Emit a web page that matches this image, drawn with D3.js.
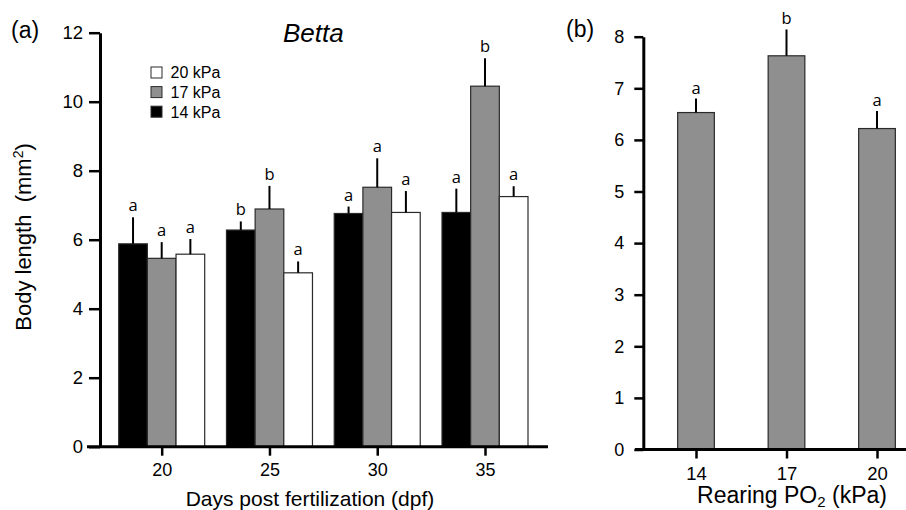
<!DOCTYPE html>
<html>
<head>
<meta charset="utf-8">
<script src="https://cdn.jsdelivr.net/npm/d3@7/dist/d3.min.js"></script>
<style>
  html, body { margin: 0; padding: 0; background: #fff; }
  svg { display: block; }
  text { font-family: "Liberation Sans", Arial, sans-serif; fill: #000; }
  .sig { font-family: "Open Sans", "Noto Sans", sans-serif; }
</style>
</head>
<body>
<svg id="chart" width="906" height="510"></svg>
<script>
// Panel (a): body length by age and rearing PO2
const days = ["20", "25", "30", "35"];
const seriesKeys = ["14", "17", "20"];
const seriesLabels = ["14 kPa", "17 kPa", "20 kPa"];
const mean14 = [5.88, 6.28, 6.76, 6.79];
const se14   = [0.77, 0.25, 0.20, 0.69];
const sig14  = ["a", "b", "a", "a"];
const mean17 = [5.46, 6.89, 7.52, 10.45];
const se17   = [0.47, 0.67, 0.84, 0.81];
const sig17  = ["a", "b", "a", "b"];
const mean20 = [5.58, 5.04, 6.79, 7.25];
const se20   = [0.44, 0.33, 0.62, 0.30];
const sig20  = ["a", "a", "a", "a"];
const yTicksA = [0, 2, 4, 6, 8, 10, 12];

// Panel (b): pooled body length by rearing PO2
const po2 = ["14", "17", "20"];
const meanB = [6.53, 7.63, 6.22];
const seB   = [0.27, 0.51, 0.34];
const sigB  = ["a", "b", "a"];
const yTicksB = [0, 1, 2, 3, 4, 5, 6, 7, 8];

const fills = { "14": "#000000", "17": "#8f8f8f", "20": "#ffffff" };
const BAR_STROKE = "#2a2a2a";

const svg = d3.select("#chart");

// ---------- Panel (a) ----------
const yA = d3.scaleLinear().domain([0, 12]).range([446.7, 32.7]);
const xA = d3.scalePoint().domain(days).range([161.7, 485]);
const sub = d3.scaleBand().domain(seriesKeys).range([-43, 43]).padding(0);

const rowsA = [];
days.forEach((d, i) => {
  rowsA.push({ day: d, key: "14", mean: mean14[i], se: se14[i], sig: sig14[i] });
  rowsA.push({ day: d, key: "17", mean: mean17[i], se: se17[i], sig: sig17[i] });
  rowsA.push({ day: d, key: "20", mean: mean20[i], se: se20[i], sig: sig20[i] });
});

const gA = svg.append("g");

// bars
gA.selectAll("rect.bar").data(rowsA).join("rect")
  .attr("class", "bar")
  .attr("x", d => xA(d.day) + sub(d.key))
  .attr("width", sub.bandwidth())
  .attr("y", d => yA(d.mean))
  .attr("height", d => yA(0) - yA(d.mean))
  .attr("fill", d => fills[d.key])
  .attr("stroke", BAR_STROKE)
  .attr("stroke-width", 1.2);

// upper error whiskers
gA.selectAll("line.err").data(rowsA).join("line")
  .attr("x1", d => xA(d.day) + sub(d.key) + sub.bandwidth() / 2)
  .attr("x2", d => xA(d.day) + sub(d.key) + sub.bandwidth() / 2)
  .attr("y1", d => yA(d.mean))
  .attr("y2", d => yA(d.mean + d.se))
  .attr("stroke", "#000").attr("stroke-width", 2);

// significance letters
gA.selectAll("text.sig").data(rowsA).join("text")
  .attr("class", "sig")
  .attr("x", d => xA(d.day) + sub(d.key) + sub.bandwidth() / 2)
  .attr("y", d => yA(d.mean + d.se) - 6)
  .attr("text-anchor", "middle")
  .attr("font-size", 16.5)
  .text(d => d.sig);

// y axis
const yAxisA = gA.append("g").attr("transform", "translate(100,0)")
  .call(d3.axisLeft(yA).tickValues(yTicksA).tickSize(11).tickSizeOuter(0).tickPadding(6));
yAxisA.select(".domain").attr("stroke-width", 3);
yAxisA.selectAll(".tick line").attr("stroke-width", 2.5);
yAxisA.selectAll(".tick text").attr("font-size", 18.5).attr("font-family", "Liberation Sans, Arial, sans-serif");

// x axis
gA.append("line")
  .attr("x1", 87).attr("x2", 548)
  .attr("y1", yA(0)).attr("y2", yA(0))
  .attr("stroke", "#000").attr("stroke-width", 3);
const xAxisA = gA.append("g").attr("transform", `translate(0,${yA(0)})`)
  .call(d3.axisBottom(xA).tickSize(9).tickPadding(8));
xAxisA.select(".domain").remove();
xAxisA.selectAll(".tick line").attr("stroke-width", 2.5);
xAxisA.selectAll(".tick text").attr("font-size", 18).attr("font-family", "Liberation Sans, Arial, sans-serif");

// titles
gA.append("text").attr("x", 11).attr("y", 38).attr("font-size", 23).text("(a)");
gA.append("text").attr("x", 283).attr("y", 42).attr("font-size", 26)
  .attr("font-style", "italic").text("Betta");
gA.append("text").attr("x", 310).attr("y", 506).attr("text-anchor", "middle")
  .attr("font-size", 21).text("Days post fertilization (dpf)");
const yLab = gA.append("text")
  .attr("transform", "translate(31,237) rotate(-90)")
  .attr("text-anchor", "middle").attr("font-size", 22)
  .attr("xml:space", "preserve");
yLab.append("tspan").text("Body length  (mm");
yLab.append("tspan").attr("font-size", 14).attr("dy", -8).text("2");
yLab.append("tspan").attr("dy", 8).text(")");

// legend (top to bottom: 20, 17, 14 kPa)
const legendOrder = [2, 1, 0];
const legend = gA.append("g");
legendOrder.forEach((si, r) => {
  const cy = 72.5 + r * 19.6;
  legend.append("rect")
    .attr("x", 151).attr("y", cy - 5.5).attr("width", 11).attr("height", 11)
    .attr("fill", fills[seriesKeys[si]]).attr("stroke", BAR_STROKE).attr("stroke-width", 1);
  legend.append("text").attr("x", 170.5).attr("y", cy + 5.8)
    .attr("font-size", 16).text(seriesLabels[si]);
});

// ---------- Panel (b) ----------
const yB = d3.scaleLinear().domain([0, 8]).range([449.5, 36.7]);
const xB = d3.scalePoint().domain(po2).range([696, 877]);
const bwB = 36.7;

const rowsB = po2.map((p, i) => ({ p, mean: meanB[i], se: seB[i], sig: sigB[i] }));
const gB = svg.append("g");

gB.selectAll("rect.bar").data(rowsB).join("rect")
  .attr("x", d => xB(d.p) - bwB / 2)
  .attr("width", bwB)
  .attr("y", d => yB(d.mean))
  .attr("height", d => yB(0) - yB(d.mean))
  .attr("fill", fills["17"])
  .attr("stroke", BAR_STROKE).attr("stroke-width", 1.2);

gB.selectAll("line.err").data(rowsB).join("line")
  .attr("x1", d => xB(d.p)).attr("x2", d => xB(d.p))
  .attr("y1", d => yB(d.mean)).attr("y2", d => yB(d.mean + d.se))
  .attr("stroke", "#000").attr("stroke-width", 2);

gB.selectAll("text.sig").data(rowsB).join("text")
  .attr("class", "sig")
  .attr("x", d => xB(d.p))
  .attr("y", d => yB(d.mean + d.se) - 5)
  .attr("text-anchor", "middle")
  .attr("font-size", 16.5)
  .text(d => d.sig);

const yAxisB = gB.append("g").attr("transform", "translate(643.3,0)")
  .call(d3.axisLeft(yB).tickValues(yTicksB).tickSize(9).tickSizeOuter(0).tickPadding(10));
yAxisB.select(".domain").attr("stroke-width", 3);
yAxisB.selectAll(".tick line").attr("stroke-width", 2.5);
yAxisB.selectAll(".tick text").attr("font-size", 18).attr("font-family", "Liberation Sans, Arial, sans-serif");

gB.append("line")
  .attr("x1", 635).attr("x2", 906)
  .attr("y1", yB(0)).attr("y2", yB(0))
  .attr("stroke", "#000").attr("stroke-width", 3);
const xAxisB = gB.append("g").attr("transform", `translate(0,${yB(0)})`)
  .call(d3.axisBottom(xB).tickSize(9).tickPadding(8));
xAxisB.select(".domain").remove();
xAxisB.selectAll(".tick line").attr("stroke-width", 2.5);
xAxisB.selectAll(".tick text").attr("font-size", 18.5).attr("font-family", "Liberation Sans, Arial, sans-serif");

gB.append("text").attr("x", 566).attr("y", 37).attr("font-size", 23).text("(b)");
const xLabB = gB.append("text").attr("x", 792).attr("y", 503)
  .attr("text-anchor", "middle").attr("font-size", 23);
xLabB.append("tspan").text("Rearing PO");
xLabB.append("tspan").attr("font-size", 15).attr("dy", 3.5).text("2");
xLabB.append("tspan").attr("dy", -3.5).text(" (kPa)");
</script>
</body>
</html>
